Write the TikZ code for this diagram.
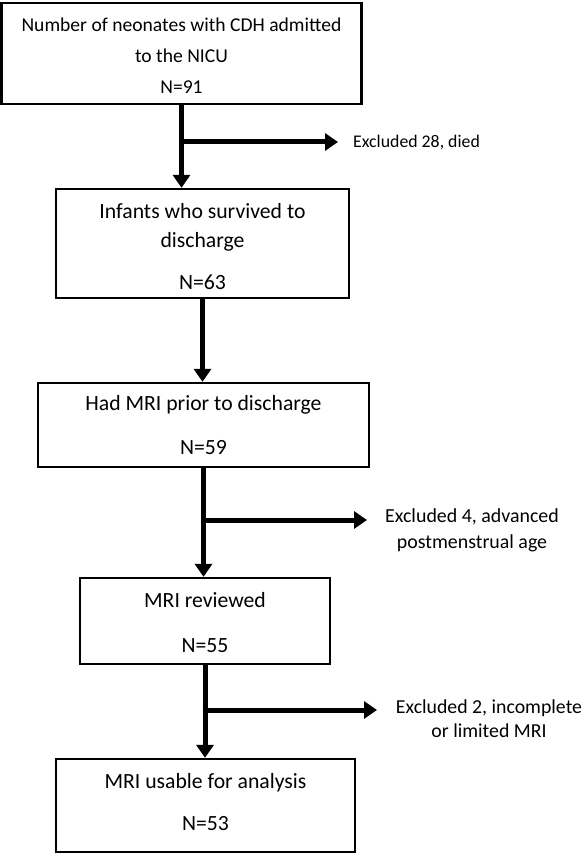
\documentclass[tikz,border=0pt]{standalone}
\usepackage{fontspec}
\setmainfont{Carlito}
\usetikzlibrary{arrows.meta}
\begin{document}
\begin{tikzpicture}[x=1pt,y=-1pt,
  box/.style={draw=black,line width=2.3pt,inner sep=0pt,align=center,text=black},
  flow/.style={line width=5pt,-{Triangle[length=13pt,width=17pt]}},
  extxt/.style={inner sep=0pt,align=center,text=black}]
\useasboundingbox (0,0) rectangle (584,853);
\node[box,minimum width=360pt,minimum height=101pt,font=\fontsize{19.6}{31}\selectfont] (b1) at (181.5,53.5)
  {\rule{0pt}{19pt}Number of neonates with CDH admitted\\to the NICU\\N=91};
\node[box,minimum width=293pt,minimum height=109pt,font=\fontsize{21.7}{29}\selectfont] (b2) at (202.5,243.5)
  {\rule{0pt}{22pt}Infants who survived to\\discharge\\[13pt]N=63};
\node[box,minimum width=331pt,minimum height=84pt,font=\fontsize{21.7}{44}\selectfont] (b3) at (203.5,425)
  {Had MRI prior to discharge\\N=59};
\node[box,minimum width=250pt,minimum height=86pt,font=\fontsize{21.7}{45}\selectfont] (b4) at (205,621)
  {\rule{0pt}{19pt}MRI reviewed\\N=55};
\node[box,minimum width=299pt,minimum height=93pt,font=\fontsize{21.7}{42}\selectfont] (b5) at (205.5,805.5)
  {MRI usable for analysis\\N=53\rule[-8pt]{0pt}{0pt}};
\node[extxt,anchor=west,font=\fontsize{17.8}{26}\selectfont] (e1) at (353,142) {Excluded 28, died};
\node[extxt,font=\fontsize{19.9}{26}\selectfont] (e2) at (472,530) {Excluded 4, advanced\\postmenstrual age};
\node[extxt,font=\fontsize{19.8}{24}\selectfont] (e3) at (489,719) {Excluded 2, incomplete\\or limited MRI};
\coordinate (j1) at (b1.south |- 0,142);
\coordinate (t1) at (338,142);
\coordinate (j2) at (b3.south |- 0,520);
\coordinate (t2) at (367,520);
\coordinate (j3) at (b4.south |- 0,710);
\coordinate (t3) at (377,710);
\draw[flow] (b1.south) -- (b1.south |- b2.north);
\draw[flow] (b2.south) -- (b2.south |- b3.north);
\draw[flow] (b3.south) -- (b3.south |- b4.north);
\draw[flow] (b4.south) -- (b4.south |- b5.north);
\draw[flow] ([xshift=-2.5pt]j1) -- (t1);
\draw[flow] ([xshift=-2.5pt]j2) -- (t2);
\draw[flow] ([xshift=-2.5pt]j3) -- (t3);
\end{tikzpicture}
\end{document}
